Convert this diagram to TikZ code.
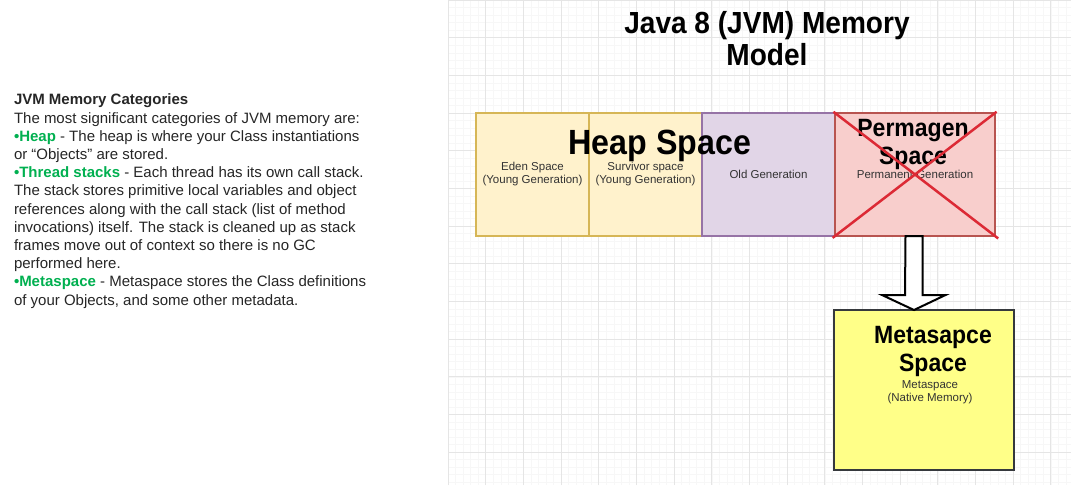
\documentclass[tikz,border=0pt]{standalone}
\usepackage{fontspec}
\setmainfont{Liberation Sans}
\newfontfamily\headfont[FakeStretch=0.92]{Liberation Sans}
\usetikzlibrary{positioning}
\definecolor{catgreen}{HTML}{00B050}
\definecolor{youngfill}{HTML}{FFF2CC}
\definecolor{youngline}{HTML}{D6B656}
\definecolor{oldfill}{HTML}{E1D5E7}
\definecolor{oldline}{HTML}{9673A6}
\definecolor{permfill}{HTML}{F8CECC}
\definecolor{permline}{HTML}{B85450}
\definecolor{crossred}{HTML}{DC2A35}
\definecolor{metafill}{HTML}{FFFF88}
\definecolor{metaline}{HTML}{36393D}
\newcommand{\cat}[1]{\textcolor{catgreen}{\textbf{\textbullet#1}}}

\begin{document}
\begin{tikzpicture}[x=1pt, y=-1pt]
    \tikzstyle{every node}=[inner sep=0pt, outer sep=0pt, align=center]
    \tikzstyle{small}=[font=\fontsize{11.5}{13}\selectfont, text=black!80]
    \tikzstyle{memory}=[draw, line width=2pt, minimum height=123pt, small]
    \tikzstyle{young}=[memory, fill=youngfill, draw=youngline, minimum width=113pt]
    \useasboundingbox (0,0) rectangle (1089,485);
    \fill[white] (0,0) rectangle (1089,485);
    % grid paper
    \begin{scope}[shift={(448,0)}]
        \draw[black!3, line width=0.4pt, step=7.534pt] (0,0) grid (623,485);
        \draw[black!10, line width=0.8pt, step=37.67pt] (0,0) grid (623,485);
    \end{scope}
    % left text
    \node [anchor=north west, align=left, text=black!85, font=\fontsize{15}{18.2}\selectfont] (notes) at (14,94) {\textbf{JVM Memory Categories}\\
        The most significant categories of JVM memory are:\\
        \cat{Heap} - The heap is where your Class instantiations\\
        or “Objects” are stored.\\
        \cat{Thread stacks} - Each thread has its own call stack.\\
        The stack stores primitive local variables and object\\
        references along with the call stack (list of method\\
        invocations) itself. The stack is cleaned up as stack\\
        frames move out of context so there is no GC\\
        performed here.\\
        \cat{Metaspace} - Metaspace stores the Class definitions\\
        of your Objects, and some other metadata.};
    \node [font=\headfont\bfseries\fontsize{30.5}{32}\selectfont] (title) at (767,38.5) {Java 8 (JVM) Memory\\Model};
    % memory blocks
    \node [young, anchor=north west] (eden) at (476,113) {Eden Space\\(Young Generation)};
    \node [young, right=0pt of eden] (survivor) {Survivor space\\(Young Generation)};
    \node [memory, fill=oldfill, draw=oldline, minimum width=133pt, right=0pt of survivor] (old) {Old Generation};
    \node [memory, fill=permfill, draw=permline, minimum width=160pt, right=0pt of old] (perm) {Permanent Generation};
    \node [font=\headfont\bfseries\fontsize{35}{36}\selectfont] (heap) at (660,146) {Heap Space};
    \node [font=\headfont\bfseries\fontsize{25}{28}\selectfont] (permtitle) at (913,144.5) {Permagen\\Space};
    \draw [crossred, line width=2.5pt, shorten <=-2pt, shorten >=-4pt] (perm.north west) -- (perm.south east);
    \draw [crossred, line width=2.5pt, shorten <=-2pt, shorten >=-3pt] (perm.north east) -- (perm.south west);
    \node [draw=metaline, fill=metafill, line width=2pt, minimum width=180pt, minimum height=160pt, anchor=north west] (meta) at (834,310) {};
    \node [font=\headfont\bfseries\fontsize{25}{28}\selectfont] (metatitle) at (933,351) {Metasapce\\Space};
    \node [small] (metanote) at (930,392.5) {Metaspace\\(Native Memory)};
    % block arrow
    \coordinate (arrtop) at (914,236);
    \coordinate (arrtip) at (914,310);
    \draw [fill=white, line width=2pt, line join=miter] (arrtop) ++(-8.5,0) -- ++(17,0) -- ++(0,59) -- ++(23,0) -- (arrtip) -- ++(-32,-15) -- ++(23,0) -- cycle;
\end{tikzpicture}
\end{document}
